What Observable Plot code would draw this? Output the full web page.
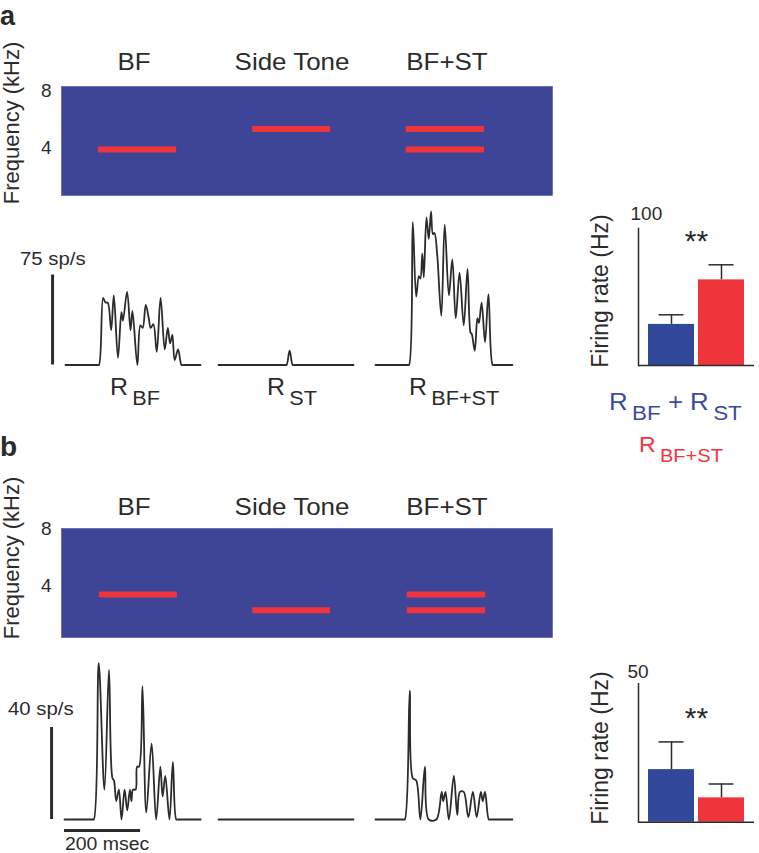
<!DOCTYPE html>
<html><head><meta charset="utf-8">
<script src="https://cdn.jsdelivr.net/npm/d3@7"></script>
<script src="https://cdn.jsdelivr.net/npm/@observablehq/plot@0.6"></script>
<style>
body{margin:0;background:#fff;}
#fig{position:relative;width:759px;height:853px;overflow:hidden;font-family:"Liberation Sans",Arial,sans-serif;color:#2b2b2b;}
.t{position:absolute;white-space:nowrap;line-height:1;}
.sub{position:relative;top:10px;margin-left:4px;font-size:0.87em}
</style></head><body><div id="fig"></div>
<script>
// ---------- data ----------
const conditions = ["BF", "Side Tone", "BF+ST"];
// tones: [start ms, end ms, frequency kHz] on the stimulus time axis
const tonesA = [[97, 303, 3.85], [503, 708, 5.3], [907, 1113, 5.3], [907, 1113, 3.85]];
const tonesB = [[100, 305, 3.37], [503, 708, 2.27], [910, 1116, 3.37], [910, 1116, 2.27]];
const freqTicks = [4, 8];
// PSTH traces: [time ms, rate sp/s]
const traceA_BF = [[0,0],[84,0],[88,0],[99,56],[105,52],[111,52],[120,29],[127,58],[138,6],[147,44],[151,37],[162,61],[171,29],[176,45],[189,0],[197,33],[203,31],[211,50],[219,39],[224,31],[231,34],[240,11],[250,56],[261,13],[269,31],[275,18],[281,25],[287,4],[296,13],[305,0],[309,0],[355,0]];
const traceA_ST = [[0,0],[175,0],[179,0],[187,12],[195,0],[199,0],[355,0]];
const traceA_BFST = [[0,0],[84,0],[88,0],[98,119],[107,57],[114,74],[118,72],[123,93],[127,73],[134,123],[140,105],[146,128],[151,109],[155,110],[162,93],[173,41],[182,117],[193,58],[202,88],[211,39],[221,77],[232,33],[242,80],[250,27],[253,26],[261,12],[268,39],[272,35],[279,52],[288,19],[297,59],[308,0],[312,0],[360,0]];
const traceB_BF = [[0,0],[73,0],[77,0],[90,68],[105,13],[117,65],[126,18],[130,17],[136,8],[143,13],[150,0],[158,13],[165,4],[172,13],[176,8],[180,13],[187,13],[191,23],[196,23],[205,58],[215,3],[229,33],[241,0],[252,23],[258,10],[265,19],[276,0],[285,25],[294,0],[298,0],[358,0]];
const traceB_ST = [[0,0],[355,0]];
const traceB_BFST = [[0,0],[73,0],[77,0],[90,56],[98,18],[107,17],[118,0],[130,23],[140,0],[160,0],[174,12],[178,8],[184,12],[193,0],[206,19],[215,2],[222,12],[232,12],[244,1],[256,12],[266,1],[277,12],[282,8],[288,12],[298,0],[302,0],[360,0]];
const scaleA = 75, scaleB = 40;      // sp/s scale bars
const timeBarMs = 200;
const barCats = ["RBF + RST", "RBF+ST"];
const barsA_mean = [30, 62.5], barsA_err = [7, 11];
const barsB_mean = [19, 8.8], barsB_err = [10, 5];
const barsA_max = 100, barsB_max = 50;
const sigLabel = "**";

// ---------- style ----------
const ink = "#2b2b2b", bgBlue = "#3e4596", toneRed = "#f0343c";
const barBlue = "#31489b", barRed = "#f0343c", legendBlue = "#3a4a9e";
const fontFam = '"Liberation Sans", Arial, sans-serif';
const fig = document.getElementById("fig");

function place(el, left, top) {
  el.style.position = "absolute"; el.style.left = left + "px"; el.style.top = top + "px";
  el.style.overflow = "visible";
  fig.appendChild(el);
}
function text(html, x, baseline, size, opts = {}) {
  const d = document.createElement("div");
  d.className = "t"; d.innerHTML = html;
  d.style.fontSize = size + "px";
  d.style.top = (baseline - 0.847 * size) + "px";
  d.style.left = x + "px";
  const sx = opts.sx || 1;
  if (opts.center) { d.style.transform = `translateX(-50%) scaleX(${sx})`; }
  else { d.style.transformOrigin = "left center"; d.style.transform = `scaleX(${sx})`; }
  if (opts.bold) d.style.fontWeight = "bold";
  if (opts.color) d.style.color = opts.color;
  fig.appendChild(d);
}
function vtext(str, cx, cy, size) {
  const d = document.createElement("div");
  d.className = "t"; d.textContent = str; d.style.fontSize = size + "px";
  d.style.left = cx + "px"; d.style.top = cy + "px";
  d.style.transform = "translate(-50%,-50%) rotate(-90deg)";
  fig.appendChild(d);
}

function spectro(tones, yDomain, top) {
  const p = Plot.plot({
    width: 560, height: 125, marginLeft: 61, marginRight: 8, marginTop: 6, marginBottom: 10,
    style: {fontFamily: fontFam, color: ink, background: "transparent"},
    x: {domain: [0, 1292], axis: null},
    y: {domain: yDomain, axis: null},
    marks: [
      Plot.frame({fill: bgBlue, stroke: "#5860a8", strokeWidth: 0.7}),
      Plot.ruleY(tones, {y: d => d[2], x1: d => d[0], x2: d => d[1], stroke: toneRed, strokeWidth: 6}),
      Plot.axisY(freqTicks, {tickSize: 0, tickPadding: 10, fontSize: 19, label: null})
    ]
  });
  place(p, 0, top);
}

function trace(data, left, top, height, baseline, pxPerUnit, ref, opts = {}) {
  const marks = [
    Plot.line(data, {x: d => d[0], y: d => d[1], curve: "catmull-rom", stroke: ink, strokeWidth: 1.8, strokeLinejoin: "round"})
  ];
  if (opts.scaleBar) marks.push(Plot.ruleX([-34], {x: d => d, y1: 0, y2: ref, stroke: ink, strokeWidth: 3}));
  if (opts.timeBar) marks.push(Plot.ruleY([0], {x1: 0, x2: timeBarMs, dy: 11, stroke: ink, strokeWidth: 3}));
  const p = Plot.plot({
    width: 162, height,
    style: {background: "transparent"},
    x: {domain: [0, 355], range: [20, 155], axis: null},
    y: {domain: [0, ref], range: [baseline, baseline - ref * pxPerUnit], axis: null},
    marks
  });
  place(p, left - 20, top);
}

function bars(means, errs, yMax, top, mT, mB, starY, lblDx, lblDy) {
  const data = barCats.map((c, i) => ({cat: c, v: means[i], e: errs[i]}));
  const p = Plot.plot({
    width: 159, height: 180, marginLeft: 38, marginRight: 5, marginTop: mT, marginBottom: mB,
    style: {fontFamily: fontFam, color: ink, background: "transparent"},
    x: {domain: barCats, paddingInner: 0.08, paddingOuter: 0.2, align: 0.5, axis: null},
    y: {domain: [0, yMax], axis: null},
    color: {domain: barCats, range: [barBlue, barRed]},
    marks: [
      Plot.ruleX(data, {x: "cat", y1: "v", y2: d => d.v + d.e, stroke: ink, strokeWidth: 1.5}),
      Plot.tickY(data, {x: "cat", y: d => d.v + d.e, insetLeft: 10.5, insetRight: 10.5, stroke: ink, strokeWidth: 1.5}),
      Plot.barY(data, {x: "cat", y: "v", fill: "cat"}),
      Plot.frame({anchor: "left", stroke: ink, strokeWidth: 1.5}),
      Plot.ruleY([0], {stroke: ink, strokeWidth: 1.5}),
      Plot.text([yMax], {y: d => d, text: d => String(d), frameAnchor: "left", textAnchor: "start", dx: lblDx, dy: lblDy, fontSize: 19, fill: ink}),
      Plot.text([sigLabel], {y: () => starY, text: d => d, frameAnchor: "middle", fontSize: 30, fill: ink, dy: 6})
    ]
  });
  place(p, 600, top);
}

const titleX = [134, 291.5, 446.7];
const sxText = 1.08;

// ---------- panel a ----------
text("a", 0, 26, 27, {bold: true});
conditions.forEach((c, i) => text(c, titleX[i], 70, 24, {center: true, sx: sxText}));
vtext("Frequency (kHz)", 12, 123, 22);
spectro(tonesA, [0.63, 8.28], 80);
text("75 sp/s", 20, 266, 18.5, {sx: 1.1});
trace(traceA_BF, 65, 200, 175, 164.5, 1.2, scaleA, {scaleBar: true});
trace(traceA_ST, 218, 200, 175, 164.5, 1.2, scaleA);
trace(traceA_BFST, 375, 200, 175, 164.5, 1.2, scaleA);
const rLabelsA = ['R<span class="sub">BF</span>', 'R<span class="sub">ST</span>', 'R<span class="sub">BF+ST</span>'];
const rLabelLeft = [110, 267, 409];
rLabelsA.forEach((h, i) => text(h, rLabelLeft[i], 395, 23, {sx: sxText}));
bars(barsA_mean, barsA_err, barsA_max, 195, 33, 10, 95, -8, -14.5);
vtext("Firing rate (Hz)", 600, 291, 23);
text('R<span class="sub">BF</span> + R<span class="sub">ST</span>', 609, 410, 23, {color: legendBlue, sx: 1.12});
text('R<span class="sub">BF+ST</span>', 639, 453, 22, {color: barRed, sx: 1.05});

// ---------- panel b ----------
text("b", 0, 457, 28, {bold: true});
conditions.forEach((c, i) => text(c, titleX[i], 515, 24, {center: true, sx: sxText}));
vtext("Frequency (kHz)", 12, 558, 22);
spectro(tonesB, [0.35, 8.0], 522);
text("40 sp/s", 8, 716, 18.5, {sx: 1.1});
trace(traceB_BF, 64, 650, 190, 169, 2.3, scaleB, {scaleBar: true, timeBar: true});
trace(traceB_ST, 218, 650, 190, 169, 2.3, scaleB);
trace(traceB_BFST, 375, 650, 190, 169, 2.3, scaleB);
text("200 msec", 65, 850, 18, {sx: 1.08});
bars(barsB_mean, barsB_err, barsB_max, 650, 33.3, 8.3, 39.7, -11, -12);
vtext("Firing rate (Hz)", 600, 748, 23);
</script></body></html>
